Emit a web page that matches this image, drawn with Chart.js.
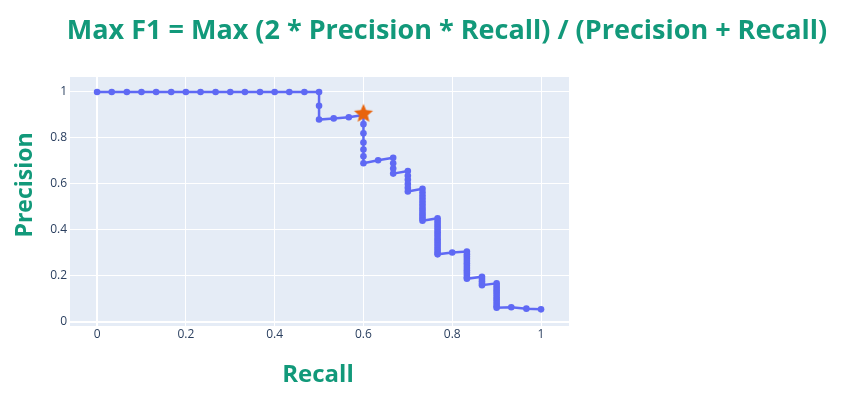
<!DOCTYPE html>
<html lang="es">
<head>
<meta charset="utf-8">
<title>Curva Precision-Recall</title>
<script src="https://cdn.jsdelivr.net/npm/chart.js@4.4.1/dist/chart.umd.min.js"></script>
<style>
    html, body { margin: 0; padding: 0; background: #ffffff; overflow: hidden; }
    canvas { display: block; }
</style>
</head>
<body>
<canvas id="chartPR" width="843" height="398"></canvas>
<script>
// Datos (recall en X, precision en Y)
const recall = [
    0, 0.033, 0.067, 0.1, 0.133, 0.167, 0.2, 0.233, 0.267, 0.3, 0.333, 0.367, 0.4, 0.433, 0.467, 0.5,
    0.5, 0.5,
    0.533, 0.567, 0.6,
    0.6, 0.6, 0.6, 0.6, 0.6, 0.6,
    0.633, 0.667,
    0.667, 0.667, 0.667,
    0.7, 0.7, 0.7, 0.7, 0.7, 0.7,
    0.733, 0.733, 0.733, 0.733, 0.733, 0.733, 0.733, 0.733, 0.733, 0.733, 0.733, 0.733, 0.733,
    0.767, 0.767, 0.767, 0.767, 0.767, 0.767, 0.767, 0.767, 0.767, 0.767, 0.767, 0.767, 0.767, 0.767, 0.767, 0.767, 0.767,
    0.8,
    0.833, 0.833, 0.833, 0.833, 0.833, 0.833, 0.833, 0.833, 0.833, 0.833, 0.833, 0.833, 0.833,
    0.867, 0.867, 0.867, 0.867, 0.867,
    0.9, 0.9, 0.9, 0.9, 0.9, 0.9, 0.9, 0.9, 0.9, 0.9, 0.9, 0.9,
    0.933, 0.967, 1
];
const precision = [
    1, 1, 1, 1, 1, 1, 1, 1, 1, 1, 1, 1, 1, 1, 1, 1,
    0.94, 0.88,
    0.885, 0.89, 0.9,
    0.86, 0.82, 0.78, 0.75, 0.72, 0.69,
    0.703, 0.714,
    0.69, 0.667, 0.645,
    0.656, 0.636, 0.618, 0.6, 0.583, 0.567,
    0.579, 0.564, 0.55, 0.537, 0.524, 0.512, 0.5, 0.489, 0.478, 0.468, 0.458, 0.449, 0.44,
    0.451, 0.44, 0.43, 0.42, 0.41, 0.4, 0.39, 0.38, 0.37, 0.36, 0.35, 0.34, 0.33, 0.32, 0.31, 0.3, 0.294,
    0.302,
    0.306, 0.295, 0.285, 0.275, 0.265, 0.255, 0.245, 0.235, 0.225, 0.215, 0.205, 0.195, 0.188,
    0.197, 0.187, 0.177, 0.167, 0.16,
    0.168, 0.158, 0.148, 0.138, 0.128, 0.118, 0.108, 0.098, 0.088, 0.078, 0.068, 0.062,
    0.064, 0.058, 0.055
];

// Punto del F1 maximo (estrella)
const recallMaxF1 = [0.6];
const precisionMaxF1 = [0.905];

// Etiquetas de los ejes
const ticksX = [0, 0.2, 0.4, 0.6, 0.8, 1];
const ticksY = [0, 0.2, 0.4, 0.6, 0.8, 1];

const tituloPrincipal = "Max F1 = Max (2 * Precision * Recall) / (Precision + Recall)";
const tituloX = "Recall";
const tituloY = "Precision";

const verdeTitulo = '#12997a';
const azulLinea = '#5f69f4';
const naranjaEstrella = '#e8630c';

// Estrella rellena (Chart.js solo trae una estrella de lineas)
function crearEstrella(radio, color) {
    const lienzo = document.createElement('canvas');
    const lado = Math.ceil(radio * 2) + 2;
    lienzo.width = lado;
    lienzo.height = lado;
    const c = lienzo.getContext('2d');
    const centro = lado / 2;
    c.beginPath();
    for (let i = 0; i < 10; i++) {
        const r = i % 2 === 0 ? radio : radio * 0.45;
        const ang = -Math.PI / 2 + i * Math.PI / 5;
        const px = centro + r * Math.cos(ang);
        const py = centro + r * Math.sin(ang);
        if (i === 0) c.moveTo(px, py); else c.lineTo(px, py);
    }
    c.closePath();
    c.fillStyle = color;
    c.fill();
    return lienzo;
}

// Fondo del area del grafico y textos de titulos
const pluginFondo = {
    id: 'fondoPlotly',
    beforeDraw(chart) {
        const { ctx, chartArea } = chart;
        ctx.save();
        ctx.fillStyle = '#e5ecf6';
        ctx.fillRect(chartArea.left, chartArea.top, chartArea.right - chartArea.left, chartArea.bottom - chartArea.top);
        ctx.restore();
    },
    afterDraw(chart) {
        const { ctx } = chart;
        ctx.save();
        ctx.fillStyle = verdeTitulo;
        ctx.textAlign = 'center';
        ctx.textBaseline = 'middle';

        ctx.font = 'bold 27px "Open Sans"';
        ctx.fillText(tituloPrincipal, 447, 31);

        ctx.font = 'bold 24px "Open Sans"';
        ctx.fillText(tituloX, 318, 375);

        ctx.font = 'bold 23px "Open Sans"';
        ctx.translate(25, 185);
        ctx.rotate(-Math.PI / 2);
        ctx.fillText(tituloY, 0, 0);
        ctx.restore();
    }
};

function anchoRejilla(ctx) {
    return ctx.tick && ctx.tick.value === 0 ? 2 : 1;
}

const puntosCurva = recall.map((r, i) => ({ x: r, y: precision[i] }));
const puntosEstrella = recallMaxF1.map((r, i) => ({ x: r, y: precisionMaxF1[i] }));

const ctxPR = document.getElementById('chartPR').getContext('2d');
new Chart(ctxPR, {
    type: 'scatter',
    data: {
        datasets: [
            {
                label: 'Max F1',
                data: puntosEstrella,
                pointStyle: crearEstrella(10, naranjaEstrella),
                order: 0
            },
            {
                label: 'PR',
                data: puntosCurva,
                showLine: true,
                borderColor: azulLinea,
                borderWidth: 2.5,
                backgroundColor: azulLinea,
                pointBackgroundColor: azulLinea,
                pointBorderWidth: 0,
                pointRadius: 3.3,
                order: 1
            }
        ]
    },
    options: {
        responsive: false,
        animation: false,
        layout: { padding: { top: 77, right: 274, bottom: 40, left: 0 } },
        plugins: {
            legend: { display: false },
            tooltip: { enabled: false }
        },
        scales: {
            x: {
                type: 'linear',
                min: -0.061,
                max: 1.063,
                afterFit: (scale) => { scale.height = 32; },
                afterBuildTicks: (scale) => { scale.ticks = ticksX.map(v => ({ value: v })); },
                grid: { color: '#ffffff', lineWidth: anchoRejilla, drawTicks: false },
                border: { display: false },
                ticks: {
                    padding: 1,
                    color: '#2a3f5f',
                    font: { family: '"Open Sans"', size: 12 },
                    callback: (v) => String(v)
                }
            },
            y: {
                type: 'linear',
                min: -0.0174,
                max: 1.065,
                afterFit: (scale) => { scale.width = 70; },
                afterBuildTicks: (scale) => { scale.ticks = ticksY.map(v => ({ value: v })); },
                grid: { color: '#ffffff', lineWidth: anchoRejilla, drawTicks: false },
                border: { display: false },
                ticks: {
                    padding: 3,
                    color: '#2a3f5f',
                    font: { family: '"Open Sans"', size: 12 },
                    callback: (v) => String(v)
                }
            }
        }
    },
    plugins: [pluginFondo]
});
</script>
</body>
</html>
